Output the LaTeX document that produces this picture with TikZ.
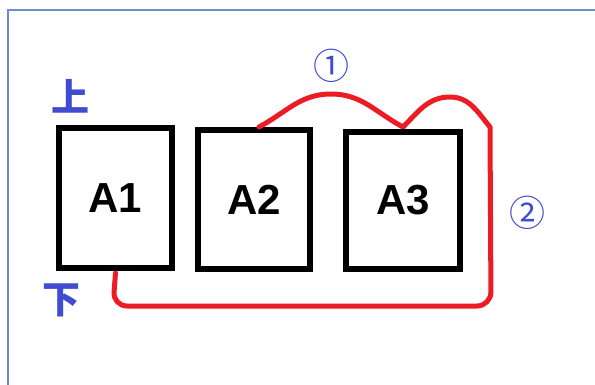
\documentclass[tikz,border=0pt]{standalone}
\usepackage{fontspec}
\setmainfont{Liberation Sans}
\newfontfamily\cjkfont{Noto Sans CJK SC}
\definecolor{frameBlue}{HTML}{6A8FC8}
\definecolor{labelBlue}{HTML}{3F4CD0}
\definecolor{routeRed}{HTML}{EC1C24}
\usetikzlibrary{arrows.meta, positioning, calc}
\tikzset{
    sheet node/.style={rectangle, draw=black, line width=6pt, fill=white, inner sep=0pt, font=\fontsize{42}{42}\selectfont\bfseries},
    side label/.style={text=labelBlue, inner sep=0pt, font=\cjkfont\fontsize{38}{38}\selectfont\bfseries},
    order label/.style={text=labelBlue, inner sep=0pt, font=\cjkfont\fontsize{36}{36}\selectfont},
    route line/.style={draw=routeRed, line width=5pt, line cap=round, line join=round},
}
\begin{document}
\begin{tikzpicture}[x=1pt, y=-1pt]
        \useasboundingbox (0,0) rectangle (595,385);

        % Frame
        \draw[frameBlue, line width=2pt] (8,385) -- (8,10) -- (595,10);

        % Sheets
        \node[sheet node, minimum width=113pt, minimum height=140pt] (A1) at (115.5,198) {A1};
        \node[sheet node, minimum width=112pt, minimum height=139pt] (A2) at (254,199.5) {A2};
        \node[sheet node, minimum width=114pt, minimum height=137pt] (A3) at (403,200.5) {A3};

        % Top / bottom labels
        \node[side label] (top) at (70,96) {上};
        \node[side label] (bottom) at (61,300) {下};

        % Route
        \draw[route line] ([xshift=5pt]A2.north) to[out=28,in=180] (331,94)
            to[out=0,in=152] ([yshift=2pt]A3.north)
            to[out=45,in=180] (450,97) to[out=0,in=130] (490,127)
            [rounded corners=14pt] -- (491,306) -- (113,306) -- ([yshift=-2pt]A1.south);

        % Order labels
        \node[order label] (first) at (331,66) {①};
        \node[order label] (second) at (527,213) {②};
    \end{tikzpicture}
\end{document}
